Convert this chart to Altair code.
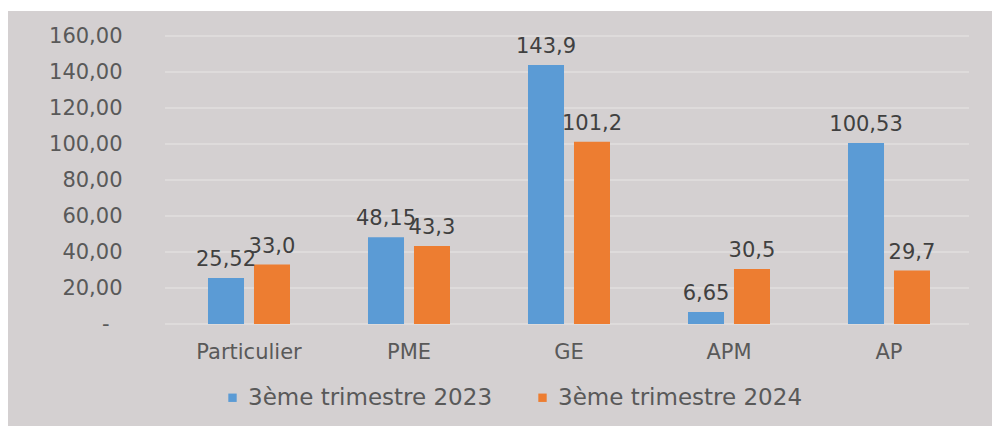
import altair as alt
import pandas as pd

categories = ["Particulier", "PME", "GE", "APM", "AP"]
series = ["3ème trimestre 2023", "3ème trimestre 2024"]
v2023 = [25.52, 48.15, 143.9, 6.65, 100.53]
v2024 = [33.0, 43.3, 101.2, 30.5, 29.7]
lab2023 = ["25,52", "48,15", "143,9", "6,65", "100,53"]
lab2024 = ["33,0", "43,3", "101,2", "30,5", "29,7"]
yticks = [0, 20, 40, 60, 80, 100, 120, 140, 160]

rows = []
for c, a, b, la, lb in zip(categories, v2023, v2024, lab2023, lab2024):
    rows.append({"cat": c, "series": series[0], "value": a, "label": la})
    rows.append({"cat": c, "series": series[1], "value": b, "label": lb})
df = pd.DataFrame(rows)
grid_df = pd.DataFrame({"value": yticks})
bg_df = pd.DataFrame({"a": [0]})

W, H = 800, 288
FONT = "DejaVu Sans"

ylabel = ("datum.value == 0 ? '-' : "
          "replace(format(datum.value, '.2f'), '.', ',')")
yaxis = alt.Axis(values=yticks, labelExpr=ylabel, grid=False, ticks=False,
                 domain=False, labelFontSize=21, labelColor="#595959",
                 labelFont=FONT,
                 labelPadding={"condition": {"test": "datum.value == 0", "value": 60},
                               "value": 47},
                 zindex=1, labelOverlap=False, labelBound=False)
yscale = alt.Scale(domain=[0, 160])

bg = alt.Chart(bg_df).mark_rect(color="#d4d0d1").encode(
    x=alt.value(-161), x2=alt.value(823), y=alt.value(-25), y2=alt.value(390)
)

grid = alt.Chart(grid_df).mark_rule(color="#dedbdb", strokeWidth=2).encode(
    y=alt.Y("value:Q", scale=yscale, axis=yaxis, title=None),
    x=alt.value(-4), x2=alt.value(W),
)

xenc = alt.X("cat:N", sort=categories, title=None,
             scale=alt.Scale(paddingInner=0, paddingOuter=0),
             axis=alt.Axis(labelFontSize=21, labelColor="#595959", labelFont=FONT,
                           ticks=False, domain=False, labelPadding=17, labelAngle=0,
                           zindex=1))
xoff = alt.XOffset("series:N", sort=series,
                   scale=alt.Scale(paddingInner=0.217, paddingOuter=0.848))

bars = alt.Chart(df).mark_bar().encode(
    x=xenc,
    xOffset=xoff,
    y=alt.Y("value:Q", scale=yscale, title=None, axis=yaxis),
    color=alt.Color("series:N", sort=series,
                    scale=alt.Scale(domain=series, range=["#5b9bd5", "#ed7d31"]),
                    legend=alt.Legend(title=None, orient="none", direction="horizontal",
                                      legendX=52, legendY=350, symbolType="square",
                                      symbolSize=70, labelFontSize=23, labelFont=FONT,
                                      labelColor="#595959", columnPadding=38,
                                      labelOffset=4, labelLimit=0, zindex=1)),
)

text = alt.Chart(df).mark_text(fontSize=21, font=FONT, color="#404040",
                               baseline="alphabetic", dy=-12).encode(
    x=alt.X("cat:N", sort=categories),
    xOffset=alt.XOffset("series:N", sort=series),
    y=alt.Y("value:Q", axis=yaxis),
    text="label:N",
)

chart = alt.layer(bg, grid, bars, text).properties(
    width=W, height=H,
    autosize=alt.AutoSizeParams(type="none"),
    padding={"left": 169, "top": 36, "right": 23, "bottom": 102},
).configure(background="white").configure_view(stroke=None)

chart.save("out.html", embed_options={"renderer": "svg", "actions": False})
